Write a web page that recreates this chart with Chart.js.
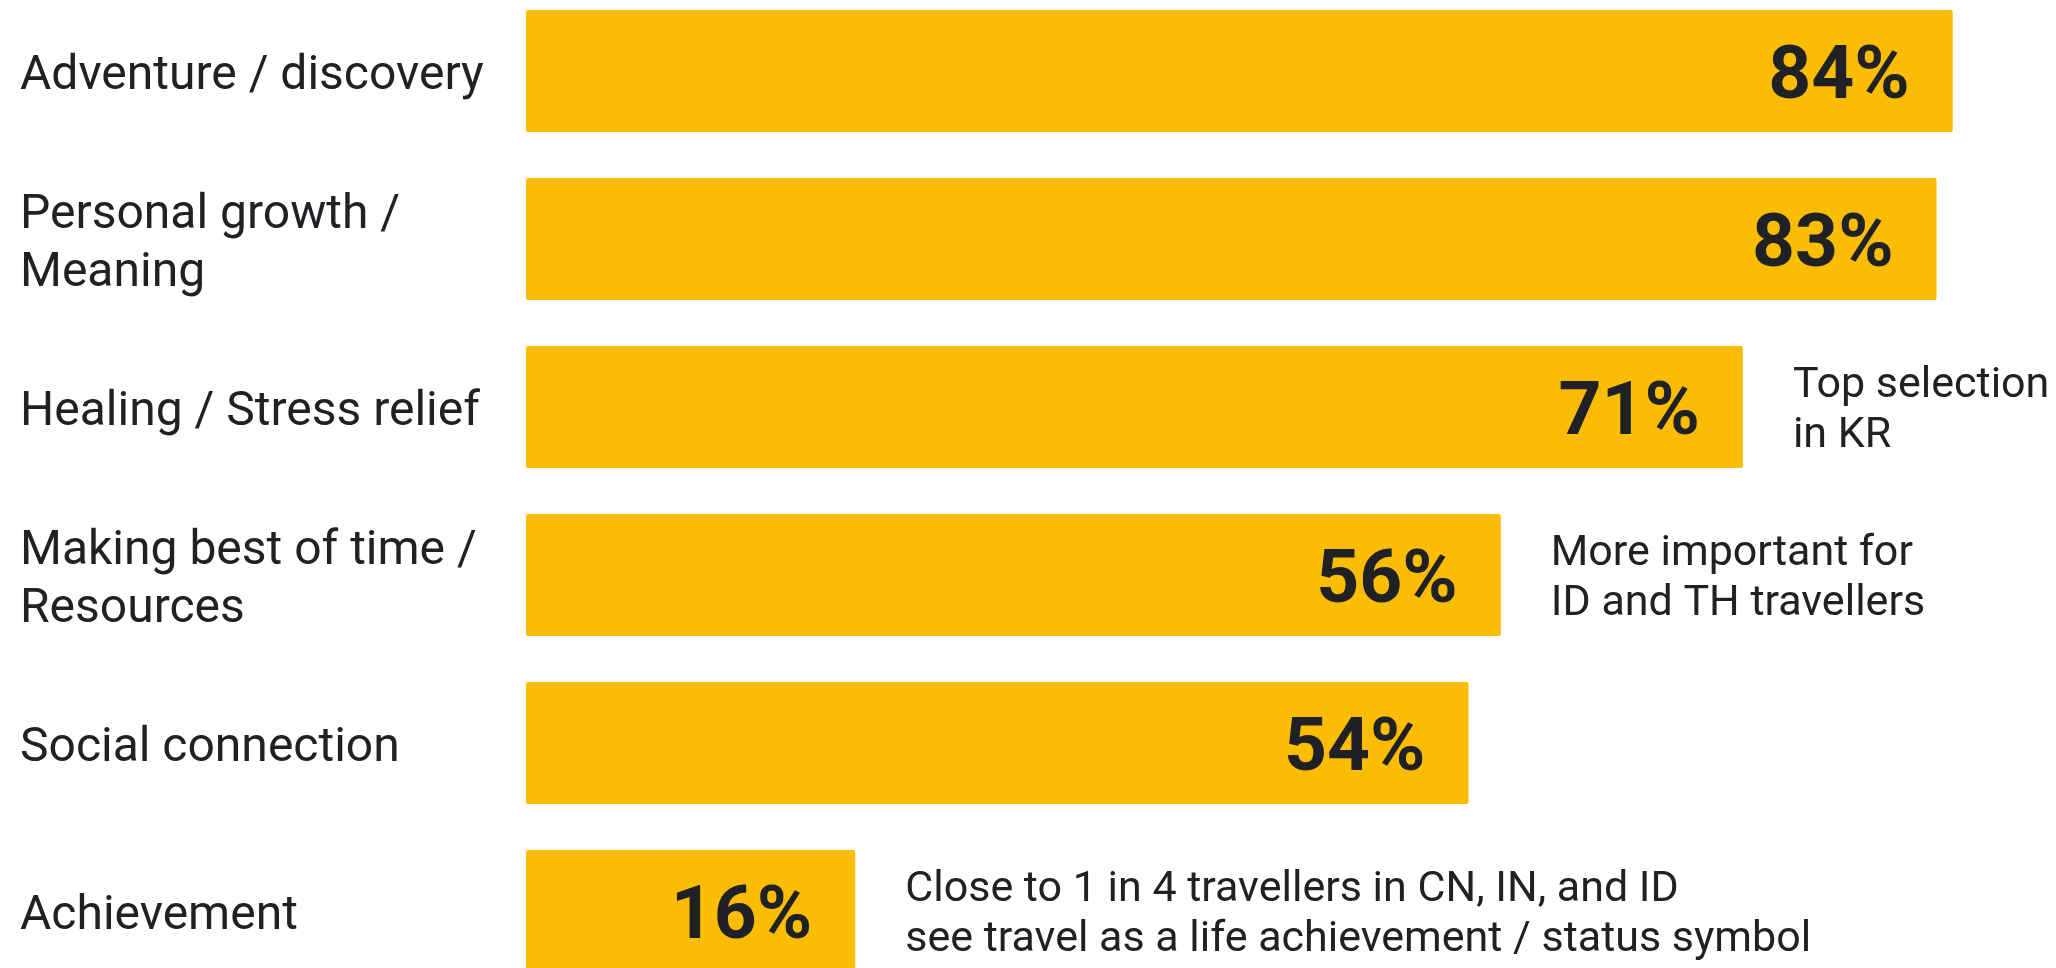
<!DOCTYPE html>
<html>
<head>
<meta charset="utf-8">
<script src="https://cdn.jsdelivr.net/npm/chart.js@4.4.1/dist/chart.umd.min.js"></script>
<style>
  html, body { margin: 0; padding: 0; background: #ffffff; overflow: hidden; width: 2056px; height: 968px; }
  #wrap { position: absolute; left: 0; top: -13px; width: 2056px; height: 1008px; }
</style>
</head>
<body>
<div id="wrap"><canvas id="c"></canvas></div>
<script>
const categories = [
  'Adventure / discovery',
  ['Personal growth /', 'Meaning'],
  'Healing / Stress relief',
  ['Making best of time /', 'Resources'],
  'Social connection',
  'Achievement'
];
const values = [84, 83, 71, 56, 54, 16];
const valueLabels = ['84%', '83%', '71%', '56%', '54%', '16%'];
const notes = [
  [],
  [],
  ['Top selection', 'in KR'],
  ['More important for', 'ID and TH travellers'],
  [],
  ['Close to 1 in 4 travellers in CN, IN, and ID', 'see travel as a life achievement / status symbol']
];

const FONT = "Roboto, 'Open Sans', sans-serif";
const INK = '#202124';
const BAR = '#FBBC04';
const AXIS_MIN = -4.4;
const AXIS_MAX = 90.4;

const labelPlugin = {
  id: 'labels',
  afterDatasetsDraw(chart) {
    const ctx = chart.ctx;
    const meta = chart.getDatasetMeta(0);
    ctx.save();
    ctx.textBaseline = 'alphabetic';
    meta.data.forEach((bar, i) => {
      const vSize = 75;
      ctx.font = "bold " + vSize + "px " + FONT;
      ctx.fillStyle = INK;
      ctx.textAlign = 'right';
      ctx.fillText(valueLabels[i], bar.x - 43, bar.y + vSize * 0.355);
      const lines = notes[i];
      if (lines.length) {
        const nSize = 43;
        ctx.font = nSize + "px " + FONT;
        ctx.textAlign = 'left';
        const lh = 50;
        const first = bar.y + nSize * 0.355 - (lines.length - 1) * lh / 2;
        lines.forEach((t, k) => ctx.fillText(t, bar.x + 50, first + k * lh));
      }
    });
    ctx.restore();
  }
};

new Chart(document.getElementById('c'), {
  type: 'bar',
  data: {
    labels: categories,
    datasets: [{
      data: values,
      base: AXIS_MIN,
      backgroundColor: BAR,
      borderRadius: 2,
      borderSkipped: false,
      barPercentage: 0.726,
      categoryPercentage: 1
    }]
  },
  options: {
    indexAxis: 'y',
    responsive: true,
    maintainAspectRatio: false,
    animation: false,
    layout: { padding: { left: 20, right: 0, top: 0, bottom: 0 } },
    plugins: { legend: { display: false }, tooltip: { enabled: false } },
    scales: {
      x: {
        display: false,
        min: AXIS_MIN,
        max: AXIS_MAX,
        grid: { display: false }
      },
      y: {
        grid: { display: false },
        border: { display: false },
        ticks: {
          crossAlign: 'far',
          color: INK,
          padding: 0,
          labelOffset: 6,
          font: { family: FONT, size: 48, lineHeight: 1.2 }
        },
        afterFit(scale) {
          scale.width = 506;
          scale.paddingTop = 0;
          scale.paddingBottom = 0;
        }
      }
    }
  },
  plugins: [labelPlugin]
});
</script>
</body>
</html>
